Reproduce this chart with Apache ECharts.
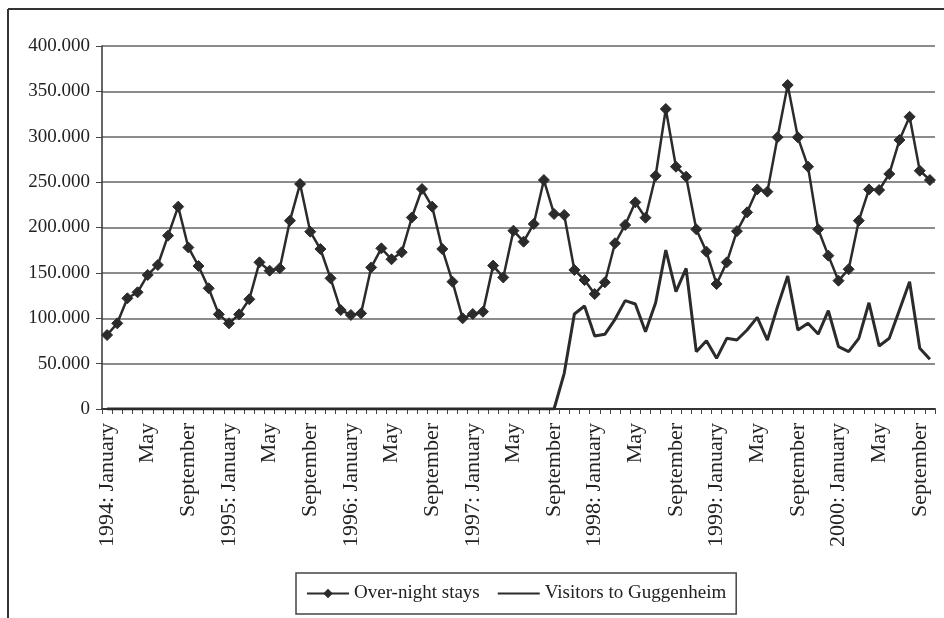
<!DOCTYPE html>
<html>
<head>
<meta charset="utf-8">
<script src="https://cdn.jsdelivr.net/npm/echarts@6/dist/echarts.min.js"></script>
<style>
html,body{margin:0;padding:0;background:#fff;}
#chart{width:944px;height:618px;}
</style>
</head>
<body>
<div id="chart"></div>
<script>
// Categories: monthly, January 1994 to October 2000
const years = [1994, 1995, 1996, 1997, 1998, 1999, 2000];
const monthNames = ['January','February','March','April','May','June','July','August','September','October','November','December'];
const lastYearMonths = 10;

// Over-night stays (monthly)
const overnightStays = [
  81500, 94400, 122000, 128600, 147700, 158700, 191000, 223000, 178000, 157600, 133000, 104300,
  94400, 104300, 120900, 161600, 152400, 155000, 207500, 248000, 195400, 176300, 144000, 109000,
  103600, 105400, 156000, 177000, 165000, 172700, 211000, 242400, 223000, 176300, 140300, 99900,
  104700, 107200, 158000, 145000, 196500, 184400, 203900, 252300, 214900, 213800, 153200, 142100,
  126700, 139600, 182600, 202800, 227700, 210800, 257000, 330600, 267000, 256000, 198000, 173400,
  137700, 161600, 196000, 216700, 242000, 239500, 299400, 357000, 299400, 267000, 198000, 169000,
  141400, 154000, 207500, 242000, 241300, 259000, 296400, 322000, 262600, 252300
];

// Visitors to Guggenheim (monthly; museum opened October 1997)
const guggenheimVisitors = [
  0, 0, 0, 0, 0, 0, 0, 0, 0, 0, 0, 0,
  0, 0, 0, 0, 0, 0, 0, 0, 0, 0, 0, 0,
  0, 0, 0, 0, 0, 0, 0, 0, 0, 0, 0, 0,
  0, 0, 0, 0, 0, 0, 0, 0, 0, 39300, 104700, 113500,
  80400, 82300, 98800, 119400, 115700, 85200, 117100, 175200, 129300, 155000, 63200, 75300,
  55800, 77900, 76000, 87000, 101000, 76000, 112800, 146600, 87000, 94400, 82600, 108300,
  68700, 63200, 77900, 117100, 69400, 77900, 109000, 140300, 66900, 54800
];

// Y axis ticks
const yTicks = [0, 50000, 100000, 150000, 200000, 250000, 300000, 350000, 400000];

const seriesNames = ['Over-night stays', 'Visitors to Guggenheim'];

const categories = [];
years.forEach((y, yi) => {
  const n = (yi === years.length - 1) ? lastYearMonths : 12;
  for (let m = 0; m < n; m++) {
    categories.push(m === 0 ? (y + ': ' + monthNames[m]) : monthNames[m]);
  }
});

function fmt(v) {
  if (v === 0) return '0';
  const k = Math.floor(v / 1000);
  return k + '.000';
}

const FONT = 'Liberation Serif';
const INK = '#2b2b2b';

const chart = echarts.init(document.getElementById('chart'), null, {renderer: 'canvas'});
chart.setOption({
  backgroundColor: '#ffffff',
  animation: false,
  grid: {left: 102, right: 9, top: 46, bottom: 209, containLabel: false},
  graphic: [
    {type: 'line', shape: {x1: 8, y1: 9, x2: 944, y2: 9}, style: {stroke: '#333', lineWidth: 2}, silent: true},
    {type: 'line', shape: {x1: 8, y1: 9, x2: 8, y2: 618}, style: {stroke: '#333', lineWidth: 2}, silent: true}
  ],
  legend: {
    data: [
      {name: seriesNames[0]},
      {name: seriesNames[1], itemStyle: {opacity: 0}}
    ],
    left: 296,
    top: 573,
    orient: 'horizontal',
    borderColor: '#444',
    borderWidth: 1.5,
    padding: [11, 10, 11, 10],
    itemGap: 17,
    itemWidth: 42,
    itemHeight: 12,
    textStyle: {fontFamily: FONT, fontSize: 19, color: '#222'}
  },
  xAxis: {
    type: 'category',
    data: categories,
    boundaryGap: true,
    axisLine: {show: true, lineStyle: {color: '#333', width: 2}},
    axisTick: {show: true, interval: 0, length: 5, lineStyle: {color: '#444', width: 1}},
    axisLabel: {
      interval: 3,
      rotate: 90,
      margin: 14,
      fontFamily: FONT,
      fontSize: 22,
      color: '#222'
    },
    splitLine: {show: false}
  },
  yAxis: {
    type: 'value',
    min: yTicks[0],
    max: yTicks[yTicks.length - 1],
    interval: yTicks[1] - yTicks[0],
    axisLine: {show: true, lineStyle: {color: '#333', width: 1.5}},
    axisTick: {show: true, length: 6, lineStyle: {color: '#444', width: 1}},
    axisLabel: {
      formatter: fmt,
      margin: 12,
      fontFamily: FONT,
      fontSize: 19,
      color: '#222'
    },
    splitLine: {show: true, lineStyle: {color: '#666', width: 1.5}}
  },
  series: [
    {
      name: seriesNames[0],
      type: 'line',
      data: overnightStays,
      symbol: 'diamond',
      symbolSize: 11,
      showAllSymbol: true,
      lineStyle: {color: INK, width: 2.5},
      itemStyle: {color: INK, borderColor: INK},
      z: 3
    },
    {
      name: seriesNames[1],
      type: 'line',
      data: guggenheimVisitors,
      symbol: 'none',
      lineStyle: {color: INK, width: 3},
      itemStyle: {color: INK},
      z: 2
    }
  ]
});
</script>
</body>
</html>
